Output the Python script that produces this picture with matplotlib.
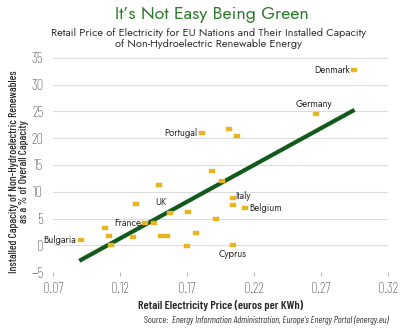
import matplotlib

matplotlib.use("Agg")
import matplotlib.pyplot as plt

# retail price (euros per KWh) vs non-hydro renewable share (% of capacity), EU27
price = [0.295, 0.266, 0.181, 0.201, 0.2075, 0.189, 0.196, 0.149, 0.204, 0.2045,
         0.213, 0.1317, 0.157, 0.171, 0.192, 0.139, 0.1456, 0.1088, 0.112, 0.130,
         0.1506, 0.155, 0.177, 0.0907, 0.113, 0.170, 0.204]
capacity = [32.8, 24.5, 21.0, 21.8, 20.5, 13.9, 12.0, 11.3, 8.8, 7.5,
            7.0, 7.7, 6.05, 6.3, 4.9, 4.2, 4.2, 3.2, 1.7, 1.55,
            1.75, 1.8, 2.3, 1.07, 0.0, -0.2, 0.0]
names = ["Denmark", "Germany", "Portugal", "", "", "", "", "", "Italy", "",
         "Belgium", "", "UK", "", "", "France", "", "", "", "",
         "", "", "", "Bulgaria", "", "", "Cyprus"]

# trend line end points
trend_x = [0.0896, 0.295]
trend_y = [-2.9, 25.3]

xticks = [0.07, 0.12, 0.17, 0.22, 0.27, 0.32]
yticks = [-5, 0, 5, 10, 15, 20, 25, 30, 35]

GOLD = "#e9b422"
GREEN = "#125a1c"
TITLE_GREEN = "#2d7a2d"
INK = "#2a2a2a"

GEO = ["Jost", "DejaVu Sans"]
COND = ["Barlow Condensed", "DejaVu Sans"]

# small rectangle marker, a bit wider than tall
RECT = [(-1.4, -1), (1.4, -1), (1.4, 1), (-1.4, 1), (-1.4, -1)]

fig = plt.figure(figsize=(4.0, 3.29), dpi=100)
ax = fig.add_axes([0.1325, 0.173, 0.8375, 0.651])

for y in yticks[1:]:
    ax.axhline(y, color="#dcdcdc", lw=0.8, zorder=0)

ax.plot(trend_x, trend_y, color=GREEN, lw=3, solid_capstyle="butt", zorder=2)
ax.plot(price, capacity, ls="none", marker=RECT, ms=4.6, color=GOLD, mec=GOLD,
        mew=0.3, zorder=3)

# where each country name sits relative to its marker
offsets = {
    "Denmark": (-3, 0, "right", "center"),
    "Germany": (-1, 4, "center", "bottom"),
    "Portugal": (-3, 0, "right", "center"),
    "Italy": (2, 1.5, "left", "center"),
    "Belgium": (3, 0, "left", "center"),
    "UK": (-2, 4, "right", "bottom"),
    "France": (-3, 0, "right", "center"),
    "Bulgaria": (-3, 0, "right", "center"),
    "Cyprus": (0, -3, "center", "top"),
}
for x, y, n in zip(price, capacity, names):
    if not n:
        continue
    dx, dy, ha, va = offsets[n]
    ax.annotate(n, (x, y), xytext=(dx, dy), textcoords="offset points",
                ha=ha, va=va, fontsize=6.8, color=INK, family=GEO)

ax.set_xlim(0.07, 0.32)
ax.set_ylim(-5, 35)
ax.set_xticks(xticks)
ax.set_xticklabels([f"{t:.2f}" for t in xticks])
ax.set_yticks(yticks)
ax.tick_params(axis="y", length=0, pad=7, labelsize=10.5, labelcolor="#3a3a3a")
ax.tick_params(axis="x", length=3, width=0.6, color="#aaaaaa", pad=4,
               labelsize=10.5, labelcolor="#3a3a3a")
for lab in ax.get_xticklabels() + ax.get_yticklabels():
    lab.set_family(COND)
    lab.set_fontweight("light")
for s in ax.spines.values():
    s.set_visible(False)

ax.set_xlabel("Retail Electricity Price (euros per KWh)", fontsize=8.6,
              fontweight="semibold", family=COND, labelpad=3, color=INK)
fig.text(0.047, 0.478, "Installed Capacity of Non-Hydroelectric Renewables\nas a % of Overall Capacity",
         rotation=90, ha="center", va="center", fontsize=8.1, family=COND,
         fontweight="medium", linespacing=1.0, color=INK)

fig.text(0.53, 0.955, "It\u2019s Not Easy Being Green", ha="center", va="center",
         fontsize=12.8, color=TITLE_GREEN, family=GEO)
fig.text(0.522, 0.883, "Retail Price of Electricity for EU Nations and Their Installed Capacity\n"
         "of Non-Hydroelectric Renewable Energy", ha="center", va="center",
         fontsize=7.9, color="#333333", linespacing=1.2, family=GEO)

# source line: upright "Source:" followed by the italic credit
src = fig.text(0.97, 0.027, "Energy Information Administration, Europe\u2019s Energy Portal (energy.eu)",
               ha="right", va="center", fontsize=6.8, style="italic", family=COND, color="#333333")
ax.annotate("Source:  ", xy=(0, 0.5), xycoords=src, ha="right", va="center",
            fontsize=6.8, family=COND, color="#333333", annotation_clip=False)

fig.savefig("out.png", dpi=100)
